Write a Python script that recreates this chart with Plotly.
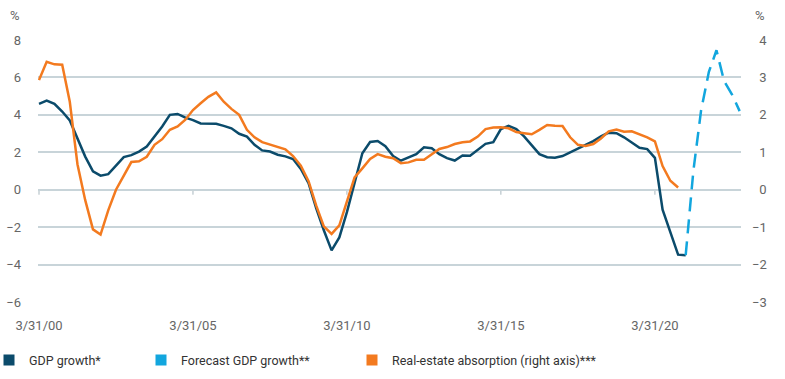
import plotly.graph_objects as go

# ---------------- data ----------------
def quarter_end(i):
    y = 2000 + i // 4
    m = [3, 6, 9, 12][i % 4]
    d = [31, 30, 30, 31][i % 4]
    return f"{y}-{m:02d}-{d:02d}"

gdp_growth = [
    4.59, 4.76, 4.59, 4.18, 3.70, 2.70, 1.77, 0.98, 0.75, 0.83,
    1.30, 1.74, 1.85, 2.04, 2.31, 2.84, 3.38, 4.00, 4.05, 3.85,
    3.72, 3.54, 3.54, 3.52, 3.41, 3.28, 2.99, 2.84, 2.40, 2.10,
    2.04, 1.87, 1.78, 1.64, 1.11, 0.35, -0.98, -2.17, -3.24, -2.55,
    -1.20, 0.30, 1.95, 2.55, 2.60, 2.33, 1.80, 1.55, 1.72, 1.90,
    2.27, 2.22, 1.90, 1.69, 1.56, 1.83, 1.81, 2.13, 2.45, 2.54,
    3.24, 3.41, 3.24, 2.85, 2.35, 1.90, 1.74, 1.71, 1.80, 2.00,
    2.20, 2.38, 2.60, 2.85, 3.05, 3.02, 2.80, 2.52, 2.24, 2.17,
    1.70, -1.07, -2.31, -3.47, -3.50,
]
forecast_gdp = [-3.50, 1.00, 4.25, 6.30, 7.45, 5.80, 5.10, 4.20]   # quarters 84..91
absorption = [  # right axis
    2.93, 3.42, 3.35, 3.34, 2.35, 0.68, -0.28, -1.06, -1.20, -0.55,
    0.00, 0.37, 0.74, 0.76, 0.88, 1.20, 1.35, 1.60, 1.69, 1.87,
    2.13, 2.31, 2.48, 2.60, 2.35, 2.16, 2.00, 1.60, 1.40, 1.27,
    1.20, 1.14, 1.08, 0.90, 0.64, 0.23, -0.42, -0.98, -1.18, -0.95,
    -0.30, 0.33, 0.57, 0.82, 0.95, 0.88, 0.84, 0.71, 0.73, 0.80,
    0.80, 0.95, 1.09, 1.14, 1.22, 1.27, 1.29, 1.42, 1.62, 1.66,
    1.67, 1.64, 1.54, 1.51, 1.48, 1.60, 1.73, 1.71, 1.70, 1.40,
    1.20, 1.17, 1.22, 1.37, 1.56, 1.61, 1.55, 1.56, 1.49, 1.40,
    1.29, 0.63, 0.24, 0.06,
]
gdp_dates = [quarter_end(i) for i in range(len(gdp_growth))]
forecast_dates = [quarter_end(84 + i) for i in range(len(forecast_gdp))]
abs_dates = [quarter_end(i) for i in range(len(absorption))]

x_tick_vals = ["2000-03-31", "2005-03-31", "2010-03-31", "2015-03-31", "2020-03-31"]
x_tick_text = ["3/31/00", "3/31/05", "3/31/10", "3/31/15", "3/31/20"]
left_ticks = [-6, -4, -2, 0, 2, 4, 6, 8]
left_text = ["−6", "−4", "−2", "0", "2", "4", "6", "8"]
right_ticks = [-3, -2, -1, 0, 1, 2, 3, 4]
right_text = ["−3", "−2", "−1", "\u20070", "\u20071", "\u20072", "\u20073", "\u20074"]

series_names = ["GDP growth*", "Forecast GDP growth**", "Real-estate absorption (right axis)***"]
C_GDP = "#0b4b6b"
C_FC = "#12a6de"
C_ABS = "#f37a1f"
C_GRID = "#c8d4d9"

FONT = "Roboto, Liberation Sans, Arial, sans-serif"

fig = go.Figure()
fig.add_trace(go.Scatter(x=gdp_dates, y=gdp_growth, mode="lines",
                         line=dict(color=C_GDP, width=2.5), showlegend=False))
fig.add_trace(go.Scatter(x=abs_dates, y=absorption, mode="lines", yaxis="y2",
                         line=dict(color=C_ABS, width=2.5), showlegend=False))
fig.add_trace(go.Scatter(x=forecast_dates, y=forecast_gdp, mode="lines",
                         line=dict(color=C_FC, width=2.5, dash="14px,8px"), showlegend=False))

# legend entries (square swatches)
for name, col, lg in zip(series_names, [C_GDP, C_FC, C_ABS], ["legend", "legend2", "legend3"]):
    fig.add_trace(go.Scatter(x=[None], y=[None], mode="markers", name=name,
                             marker=dict(symbol="square", size=11, color=col),
                             showlegend=True, legend=lg))

# small tick marks hanging below the zero line at each x tick
for tv in x_tick_vals:
    fig.add_shape(type="line", xref="x", yref="y", x0=tv, x1=tv, ysizemode="pixel",
                  yanchor=0, y0=0, y1=-5, line=dict(color="#a9b8bf", width=1), layer="below")

x_range = ["2000-03-19", "2023-01-16"]
ML, MT, PW, PH = 38, 40, 703, 262.5
W, H = 785, 379


def px_x(p):
    return (p - ML) / PW


def px_y(p):
    return (MT + PH - p) / PH


leg_common = dict(orientation="h", yref="paper", xref="paper", y=px_y(361),
                  yanchor="middle", xanchor="left", font=dict(family=FONT, size=12.5, color="#333333"),
                  bgcolor="rgba(0,0,0,0)", itemwidth=30)

fig.update_layout(
    width=W, height=H,
    margin=dict(l=ML, r=W - ML - PW, t=MT, b=H - MT - PH, autoexpand=False),
    paper_bgcolor="white", plot_bgcolor="white",
    font=dict(family=FONT, size=13, color="#666666"),
    xaxis=dict(type="date", range=x_range, tickvals=x_tick_vals, ticktext=x_tick_text,
               showgrid=False, zeroline=False, showline=False, ticks="",
               ticklabelstandoff=14, tickfont=dict(size=13, color="#666666")),
    yaxis=dict(range=[-6, 8], tickvals=left_ticks, ticktext=left_text,
               showgrid=True, gridcolor=C_GRID, gridwidth=1.5, zeroline=False,
               showline=False, ticks="", ticklabelstandoff=16, layer="below traces",
               tickfont=dict(size=13, color="#666666")),
    yaxis2=dict(range=[-3, 4], tickvals=right_ticks, ticktext=right_text,
                overlaying="y", side="right", showgrid=True, gridcolor=C_GRID, gridwidth=1.5,
                zeroline=False, showline=False, ticks="", ticklabelstandoff=10,
                tickfont=dict(size=13, color="#666666")),
    legend=dict(x=px_x(-11), **leg_common),
    legend2=dict(x=px_x(141), **leg_common),
    legend3=dict(x=px_x(352), **leg_common),
    annotations=[
        dict(text="%", xref="paper", yref="paper", x=px_x(15), y=px_y(15),
             showarrow=False, xanchor="center", yanchor="middle",
             font=dict(size=13, color="#666666")),
        dict(text="%", xref="paper", yref="paper", x=px_x(760), y=px_y(15),
             showarrow=False, xanchor="center", yanchor="middle",
             font=dict(size=13, color="#666666")),
    ],
)

fig.write_html("out.html", config={"displayModeBar": False},
               post_script="document.body.style.margin='0px';document.body.style.overflow='hidden';")
